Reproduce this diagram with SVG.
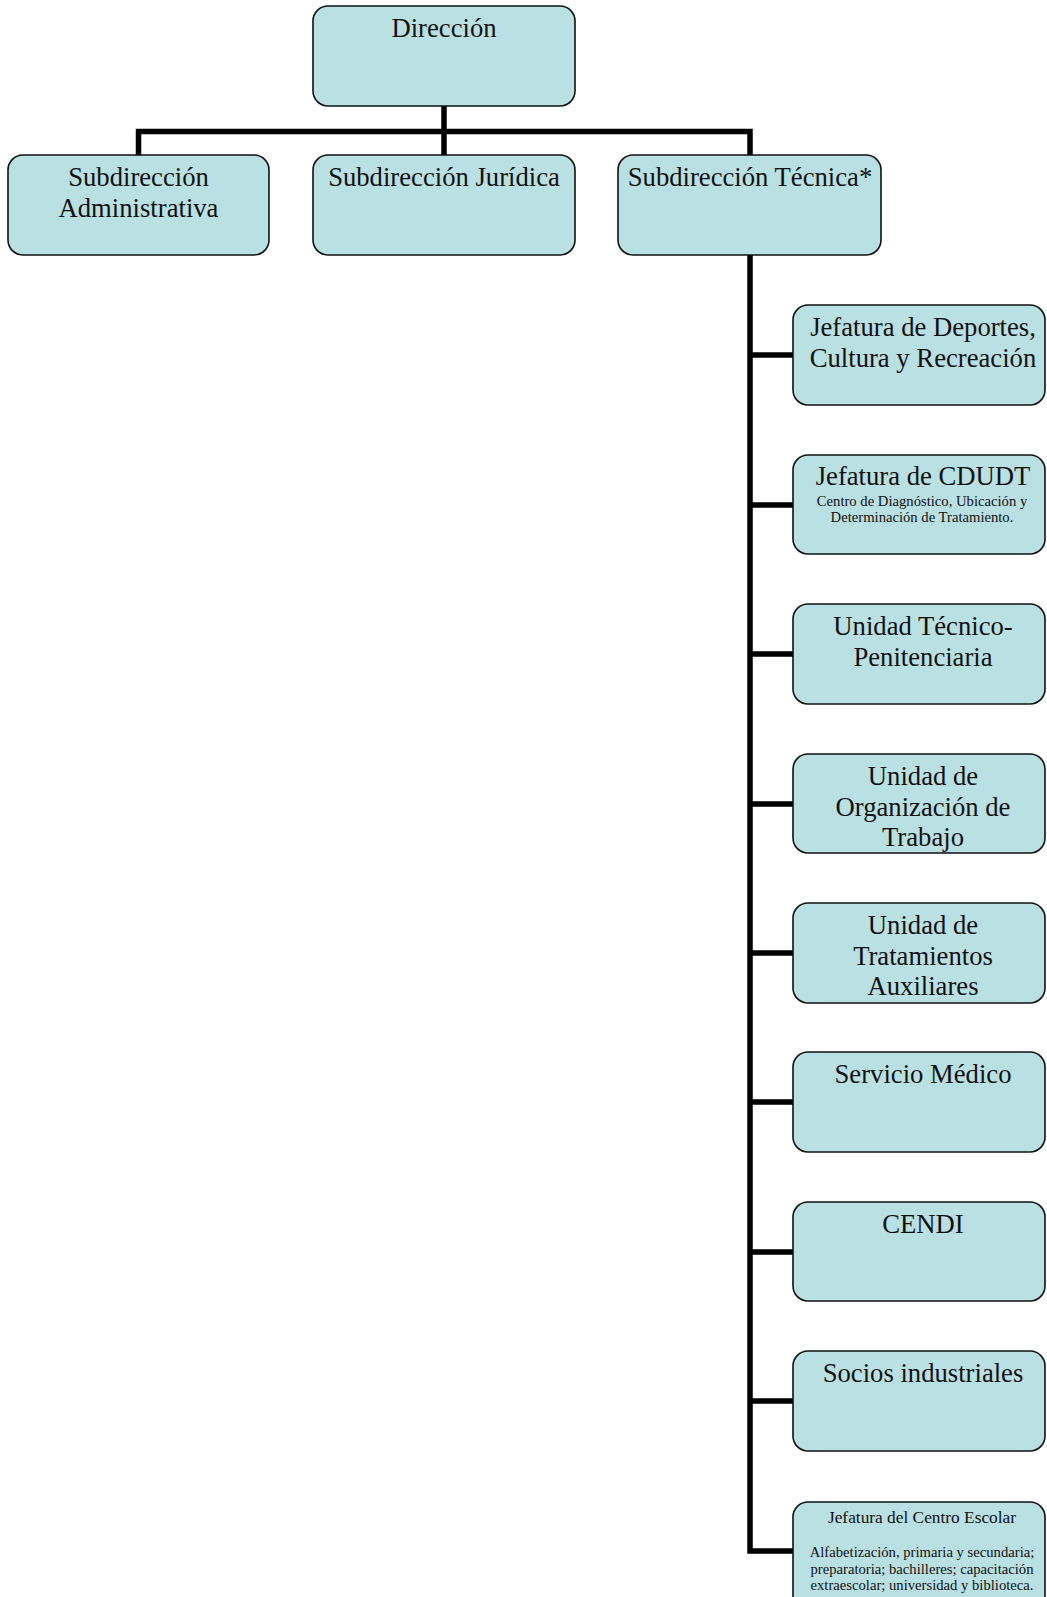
<svg xmlns="http://www.w3.org/2000/svg" width="1047" height="1597" viewBox="0 0 1047 1597">
<style>
.box{fill:#b9e0e3;stroke:#111;stroke-width:1.6}
.t{font-family:"Liberation Serif","Times New Roman",serif;font-size:26.67px;fill:#111;text-anchor:middle}
.s{font-family:"Liberation Serif","Times New Roman",serif;font-size:14.67px;fill:#111;text-anchor:middle}
.m{font-family:"Liberation Serif","Times New Roman",serif;font-size:17.33px;fill:#111;text-anchor:middle}
.c{fill:none;stroke:#000;stroke-width:5.5;stroke-linejoin:miter;stroke-linecap:butt}
</style>
<defs>
<clipPath id="clip4"><rect x="793" y="754" width="252" height="99" rx="15"/></clipPath>
</defs>
<rect width="1047" height="1597" fill="#fff"/>
<g id="connectors">
<path class="c" d="M444 106 V131.5"/>
<path class="c" d="M138.5 155 V131.5 H750 V155"/>
<path class="c" d="M444 131.5 V155"/>
<path class="c" d="M750 255 V1551 H793"/>
<path class="c" d="M750 355 H793 M750 505 H793 M750 654 H793 M750 804 H793 M750 953 H793 M750 1102 H793 M750 1252 H793 M750 1401 H793"/>
</g>
<g id="direccion"><rect class="box" x="313" y="6" width="262" height="100" rx="15"/><text class="t" x="444" y="37">Dirección</text></g>
<g id="sub-admin"><rect class="box" x="8" y="155" width="261" height="100" rx="15"/><text class="t" x="138.5" y="186">Subdirección</text><text class="t" x="138.5" y="216.7">Administrativa</text></g>
<g id="sub-juridica"><rect class="box" x="313" y="155" width="262" height="100" rx="15"/><text class="t" x="444" y="186">Subdirección Jurídica</text></g>
<g id="sub-tecnica"><rect class="box" x="618" y="155" width="263" height="100" rx="15"/><text class="t" x="750" y="186">Subdirección Técnica*</text></g>
<g id="jef-deportes"><rect class="box" x="793" y="305" width="252" height="100" rx="15"/><text class="t" x="923" y="336">Jefatura de Deportes,</text><text class="t" x="923" y="366.7">Cultura y Recreación</text></g>
<g id="jef-cdudt"><rect class="box" x="793" y="455" width="252" height="99" rx="15"/><text class="t" x="923" y="485">Jefatura de CDUDT</text><text class="s" x="922" y="505.5">Centro de Diagnóstico, Ubicación y</text><text class="s" x="922" y="522.3">Determinación de Tratamiento.</text></g>
<g id="unidad-tecnico"><rect class="box" x="793" y="604" width="252" height="100" rx="15"/><text class="t" x="923" y="635">Unidad Técnico-</text><text class="t" x="923" y="665.7">Penitenciaria</text></g>
<g id="unidad-organizacion"><rect class="box" x="793" y="754" width="252" height="99" rx="15"/><g clip-path="url(#clip4)"><text class="t" x="923" y="785">Unidad de</text><text class="t" x="923" y="815.7">Organización de</text><text class="t" x="923" y="846.4">Trabajo</text></g></g>
<g id="unidad-tratamientos"><rect class="box" x="793" y="903" width="252" height="100" rx="15"/><text class="t" x="923" y="934">Unidad de</text><text class="t" x="923" y="964.7">Tratamientos</text><text class="t" x="923" y="995.4">Auxiliares</text></g>
<g id="servicio-medico"><rect class="box" x="793" y="1052" width="252" height="100" rx="15"/><text class="t" x="923" y="1083">Servicio Médico</text></g>
<g id="cendi"><rect class="box" x="793" y="1202" width="252" height="99" rx="15"/><text class="t" x="923" y="1233">CENDI</text></g>
<g id="socios"><rect class="box" x="793" y="1351" width="252" height="100" rx="15"/><text class="t" x="923" y="1382">Socios industriales</text></g>
<g id="centro-escolar"><rect class="box" x="793" y="1502" width="252" height="110" rx="15"/><text class="m" x="922" y="1523">Jefatura del Centro Escolar</text><text class="s" x="922" y="1557">Alfabetización, primaria y secundaria;</text><text class="s" x="922" y="1573.5">preparatoria; bachilleres; capacitación</text><text class="s" x="922" y="1590">extraescolar; universidad y biblioteca.</text></g>
</svg>
